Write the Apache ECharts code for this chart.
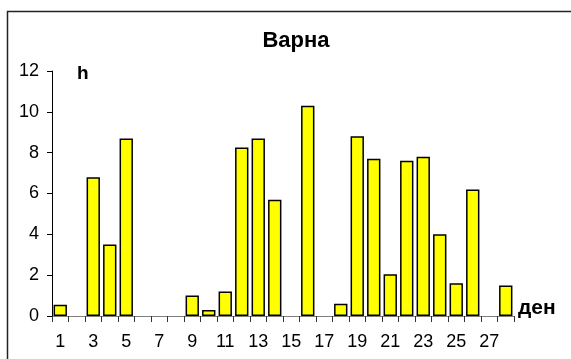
<!DOCTYPE html>
<html>
<head>
<meta charset="utf-8">
<script src="https://cdn.jsdelivr.net/npm/echarts@6/dist/echarts.min.js"></script>
<style>
  html, body { margin: 0; padding: 0; background: #fff; }
  #chart { width: 571px; height: 359px; }
</style>
</head>
<body>
<div id="chart"></div>
<script>
// Daily sunshine hours, Varna
const days = [1,2,3,4,5,6,7,8,9,10,11,12,13,14,15,16,17,18,19,20,21,22,23,24,25,26,27,28];
const hours = [0.55,0,6.8,3.5,8.7,0,0,0,1.0,0.3,1.2,8.25,8.7,5.7,0,10.3,0,0.6,8.8,7.7,2.05,7.6,7.8,4.0,1.6,6.2,0,1.5];
const yTicks = [0, 2, 4, 6, 8, 10, 12];

const font = 'Liberation Sans, Arial, sans-serif';
const chart = echarts.init(document.getElementById('chart'), null, { renderer: 'canvas' });

// days without sunshine get no bar at all
const barData = hours.map(v => (v === 0 ? '-' : v));

chart.setOption({
  animation: false,
  backgroundColor: '#fff',
  title: {
    text: 'Варна',
    left: 291,
    top: 25,
    textAlign: 'center',
    textStyle: { fontFamily: font, fontWeight: 'bold', fontSize: 22, color: '#000' }
  },
  grid: { left: 52, right: 57, top: 71, bottom: 43, containLabel: false },
  xAxis: {
    type: 'category',
    data: days.map(String),
    boundaryGap: true,
    axisLine: { show: true, lineStyle: { color: '#808080', width: 1 } },
    axisTick: { show: true, interval: 0, length: 6, alignWithLabel: false, lineStyle: { color: '#333' } },
    axisLabel: { interval: 1, margin: 17, fontFamily: font, fontSize: 18, color: '#000' },
    splitLine: { show: false }
  },
  yAxis: {
    type: 'value',
    min: yTicks[0],
    max: yTicks[yTicks.length - 1],
    interval: 2,
    axisLine: { show: true, lineStyle: { color: '#000', width: 1 } },
    axisTick: { show: true, inside: false, length: 5, lineStyle: { color: '#000' } },
    axisLabel: { margin: 13, fontFamily: font, fontSize: 18, color: '#000' },
    splitLine: { show: false }
  },
  series: [{
    type: 'bar',
    data: barData,
    barCategoryGap: '19%',
    itemStyle: { color: '#ffff00', borderColor: '#000', borderWidth: 1.5 }
  }],
  graphic: [
    {
      type: 'rect',
      shape: { x: 7.5, y: 11.5, width: 700, height: 500 },
      style: { fill: 'none', stroke: '#222', lineWidth: 1.5 },
      silent: true
    },
    {
      type: 'text',
      left: 77, top: 64,
      style: { text: 'h', fontFamily: font, fontWeight: 'bold', fontSize: 19, fill: '#000' }
    },
    {
      type: 'text',
      left: 518, top: 298,
      style: { text: 'ден', fontFamily: font, fontWeight: 'bold', fontSize: 21, fill: '#000' }
    }
  ]
});
</script>
</body>
</html>
